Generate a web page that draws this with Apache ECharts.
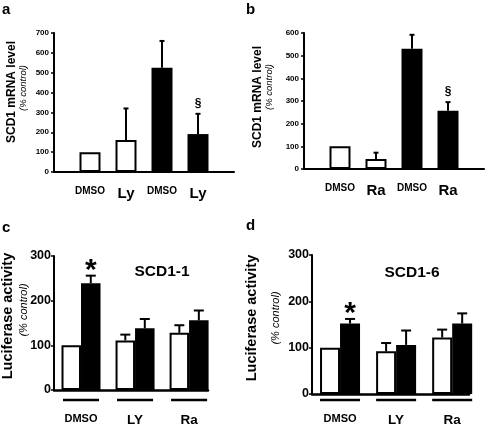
<!DOCTYPE html>
<html><head><meta charset="utf-8">
<script src="https://cdn.jsdelivr.net/npm/echarts@6/dist/echarts.min.js"></script>
<style>html,body{margin:0;padding:0;background:#fff}#c{width:488px;height:427px}</style>
</head><body><div id="c"></div>
<script>
// ---- Panel a ----
const aLabels = ['DMSO', 'Ly', 'DMSO', 'Ly'];
const aTreated = [false, false, true, true];
const aMean = [100, 161, 525, 191];
const aErrTop = [null, 320, 660, 293];
const aMarks = ['', '', '', '§'];
// ---- Panel b ----
const bLabels = ['DMSO', 'Ra', 'DMSO', 'Ra'];
const bTreated = [false, false, true, true];
const bMean = [100, 44, 530, 257];
const bErrTop = [null, 72, 592, 295];
const bMarks = ['', '', '', '§'];
// ---- Panel c ----
const cGroups = ['DMSO', 'LY', 'Ra'];
const cOpen = [100, 111, 128];
const cOpenErr = [null, 124, 145];
const cFilled = [239, 138, 156];
const cFilledErr = [256, 159, 178];
const cMarks = ['*', '', ''];
const cTitle = 'SCD1-1';
// ---- Panel d ----
const dGroups = ['DMSO', 'LY', 'Ra'];
const dOpen = [100, 92, 122];
const dOpenErr = [null, 110, 139];
const dFilled = [152, 106, 152];
const dFilledErr = [162, 137, 174];
const dMarks = ['*', '', ''];
const dTitle = 'SCD1-6';

const FONT = "'Liberation Sans', Arial, sans-serif";
const chart = echarts.init(document.getElementById('c'), null, {renderer: 'canvas'});

function xs(n) { return Array.from({length: n}, (_, i) => i + 1); }

function errSeries(axisIdx, means, errs, marks, offPx, capHalf, markFont, markGap) {
  const pos = xs(means.length);
  return {
    type: 'custom', xAxisIndex: axisIdx, yAxisIndex: axisIdx, z: 5,
    data: pos.map((x, i) => [x, means[i], errs[i] == null ? means[i] : errs[i]]),
    renderItem: function (params, api) {
      const i = params.dataIndex;
      const x = api.value(0), m = api.value(1), e = api.value(2);
      const p0 = api.coord([x, m]), p1 = api.coord([x, e]);
      const cx = p0[0] + offPx;
      const children = [];
      if (errs[i] != null) {
        children.push({type: 'line', shape: {x1: cx, y1: p0[1], x2: cx, y2: p1[1]}, style: {stroke: '#000', lineWidth: 2}});
        children.push({type: 'line', shape: {x1: cx - capHalf, y1: p1[1], x2: cx + capHalf, y2: p1[1]}, style: {stroke: '#000', lineWidth: 2}});
      }
      if (marks[i]) {
        children.push({type: 'text', style: {text: marks[i], x: cx, y: p1[1] - markGap, textAlign: 'center', textVerticalAlign: 'middle', font: markFont, fill: '#000'}});
      }
      return {type: 'group', children: children};
    }
  };
}

function underlineSeries(axisIdx, n, off, halfW) {
  return {
    type: 'custom', xAxisIndex: axisIdx, yAxisIndex: axisIdx, z: 5,
    data: xs(n).map(x => [x, 0]),
    renderItem: function (params, api) {
      const p = api.coord([api.value(0), 0]);
      return {type: 'line', shape: {x1: p[0] - halfW, y1: p[1] + off, x2: p[0] + halfW, y2: p[1] + off}, style: {stroke: '#000', lineWidth: 2.5}};
    }
  };
}

function smallBars(axisIdx, means, treated) {
  return {
    type: 'bar', xAxisIndex: axisIdx, yAxisIndex: axisIdx, barWidth: 21,
    data: means.map((v, i) => ({
      value: [i + 1, v],
      itemStyle: treated[i] ? {color: '#000', borderColor: '#000', borderWidth: 0}
                            : {color: '#fff', borderColor: '#000', borderWidth: 2}
    }))
  };
}

function groupBars(axisIdx, vals, filled, w) {
  return {
    type: 'bar', xAxisIndex: axisIdx, yAxisIndex: axisIdx, barWidth: w, barGap: '0%',
    data: vals.map((v, i) => [i + 1, v]),
    itemStyle: filled ? {color: '#000'} : {color: '#fff', borderColor: '#000', borderWidth: 2}
  };
}

function yAxisSmall(idx, max) {
  return {
    type: 'value', gridIndex: idx, min: 0, max: max, interval: 100,
    axisLine: {show: true, lineStyle: {color: '#000', width: 2}},
    axisTick: {show: true, length: 3, lineStyle: {color: '#000', width: 1.5}},
    axisLabel: {fontFamily: FONT, fontWeight: 'bold', fontSize: 8, color: '#000', margin: 5},
    splitLine: {show: false}
  };
}
function yAxisBig(idx) {
  return {
    type: 'value', gridIndex: idx, min: 0, max: 300, interval: 100,
    axisLine: {show: true, lineStyle: {color: '#000', width: 2}},
    axisTick: {show: true, length: 3, lineStyle: {color: '#000', width: 1.5}},
    axisLabel: {fontFamily: FONT, fontWeight: 'bold', fontSize: 12.5, color: '#000', margin: 3},
    splitLine: {show: false}
  };
}
function xAxisSmall(idx, labels) {
  return {
    type: 'value', gridIndex: idx, min: 0, max: 5, interval: 1,
    axisLine: {show: true, onZero: false, lineStyle: {color: '#000', width: 2}},
    axisTick: {show: false}, splitLine: {show: false},
    axisLabel: {
      margin: 14, showMinLabel: false, showMaxLabel: false,
      formatter: v => {
        const l = labels[v - 1];
        if (!l) return '';
        return l === 'DMSO' ? '{s|' + l + '}' : '{l|' + l + '}';
      },
      rich: {
        s: {fontFamily: FONT, fontWeight: 'bold', fontSize: 10, color: '#000'},
        l: {fontFamily: FONT, fontWeight: 'bold', fontSize: 15, color: '#000'}
      }
    }
  };
}
function xAxisBig(idx, groups, max, margin) {
  return {
    type: 'value', gridIndex: idx, min: 0.5, max: max, interval: 0.5,
    axisLine: {show: true, onZero: false, lineStyle: {color: '#000', width: 2.5}},
    axisTick: {show: false}, splitLine: {show: false},
    axisLabel: {
      margin: margin, showMinLabel: false, showMaxLabel: false,
      formatter: v => {
        if (!Number.isInteger(v)) return '';
        const l = groups[v - 1];
        if (!l) return '';
        return l === 'DMSO' ? '{s|' + l + '}' : '{l|' + l + '}';
      },
      rich: {
        s: {fontFamily: FONT, fontWeight: 'bold', fontSize: 11, color: '#000'},
        l: {fontFamily: FONT, fontWeight: 'bold', fontSize: 13.5, color: '#000'}
      }
    }
  };
}

function vText(text, x, y, size, weight, style) {
  return {type: 'text', x: x, y: y, rotation: Math.PI / 2,
    style: {text: text, textAlign: 'center', textVerticalAlign: 'middle', fontFamily: FONT,
      fontSize: size, fontWeight: weight, fontStyle: style || 'normal', fill: '#000'}};
}
function hText(text, x, y, size) {
  return {type: 'text', x: x, y: y,
    style: {text: text, textAlign: 'left', textVerticalAlign: 'top', fontFamily: FONT,
      fontSize: size, fontWeight: 'bold', fill: '#000'}};
}

const option = {
  animation: false,
  backgroundColor: '#fff',
  grid: [
    {left: 54, top: 33, width: 180, height: 139},
    {left: 304, top: 33, width: 180, height: 136},
    {left: 54, top: 256, width: 154, height: 140},
    {left: 312, top: 255, width: 157, height: 145}
  ],
  xAxis: [
    xAxisSmall(0, aLabels),
    xAxisSmall(1, bLabels),
    xAxisBig(2, cGroups, 3.35, 23),
    xAxisBig(3, dGroups, 3.3, 19)
  ],
  yAxis: [yAxisSmall(0, 700), yAxisSmall(1, 600), yAxisBig(2), yAxisBig(3)],
  series: [
    smallBars(0, aMean, aTreated),
    errSeries(0, aMean, aErrTop, aMarks, 0, 2.5, 'bold 12px ' + FONT, 10),
    smallBars(1, bMean, bTreated),
    errSeries(1, bMean, bErrTop, bMarks, 0, 2.5, 'bold 12px ' + FONT, 10),
    groupBars(2, cOpen, false, 19.5),
    groupBars(2, cFilled, true, 19.5),
    errSeries(2, cOpen, cOpenErr, ['', '', ''], -9.75, 5, 'bold 28px ' + FONT, 8),
    errSeries(2, cFilled, cFilledErr, cMarks, 9.75, 5, 'bold 30px ' + FONT, 5),
    underlineSeries(2, cGroups.length, 10, 18),
    groupBars(3, dOpen, false, 20),
    groupBars(3, dFilled, true, 20),
    errSeries(3, dOpen, dOpenErr, ['', '', ''], -10, 5, 'bold 28px ' + FONT, 8),
    errSeries(3, dFilled, dFilledErr, dMarks, 10, 5, 'bold 30px ' + FONT, 5),
    underlineSeries(3, dGroups.length, 6, 20)
  ],
  graphic: [
    hText('a', 2, 2, 15), hText('b', 246, 2, 15), hText('c', 2, 220, 15), hText('d', 246, 218, 15),
    vText('SCD1 mRNA level', 12, 92, 12, 'bold'),
    vText('(% control)', 23, 88, 9.5, 'normal', 'italic'),
    vText('SCD1 mRNA level', 258, 97, 12, 'bold'),
    vText('(% control)', 269, 87, 9.5, 'normal', 'italic'),
    vText('Luciferase activity', 8, 316, 14.5, 'bold'),
    vText('(% control)', 24, 310, 11, 'normal', 'italic'),
    vText('Luciferase activity', 252, 318, 14.5, 'bold'),
    vText('(% control)', 276, 318, 11, 'normal', 'italic'),
    {type: 'text', x: 162, y: 272, style: {text: cTitle, textAlign: 'center', textVerticalAlign: 'middle', fontFamily: FONT, fontSize: 15.5, fontWeight: 'bold', fill: '#000'}},
    {type: 'text', x: 412, y: 273, style: {text: dTitle, textAlign: 'center', textVerticalAlign: 'middle', fontFamily: FONT, fontSize: 15.5, fontWeight: 'bold', fill: '#000'}}
  ]
};
chart.setOption(option);
</script></body></html>
